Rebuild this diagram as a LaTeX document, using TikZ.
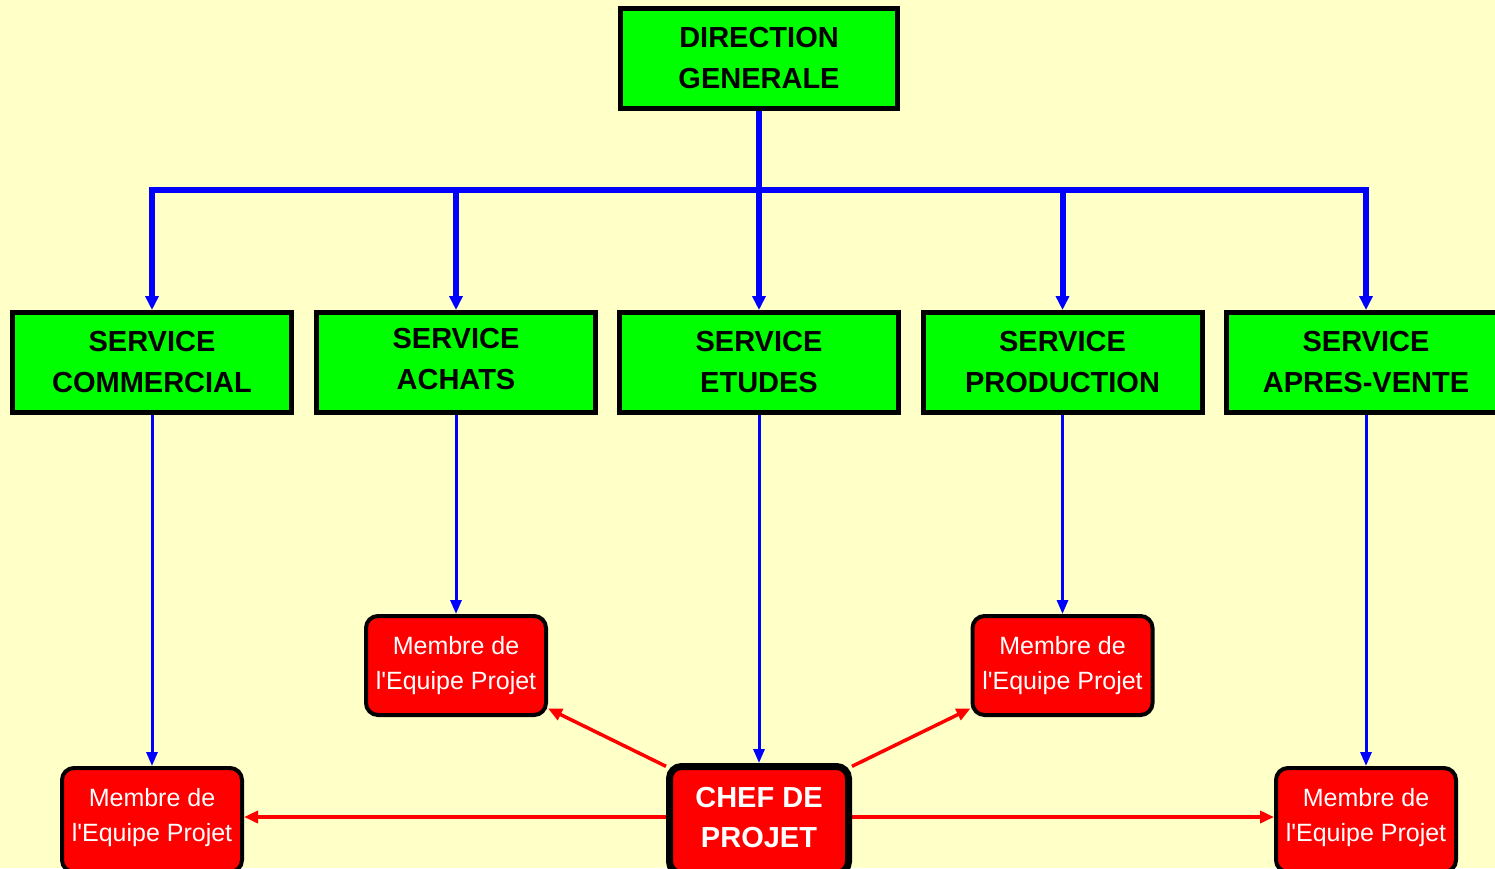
\documentclass[tikz,border=0pt]{standalone}
\usepackage{fontspec}
\setmainfont{Liberation Sans}
\usetikzlibrary{arrows.meta,calc}
\pgfdeclarelayer{back}
\pgfdeclarelayer{links}
\pgfsetlayers{back,links,main}
\definecolor{bgyellow}{RGB}{255,255,200}
\definecolor{boxgreen}{RGB}{0,255,0}
\definecolor{boxred}{RGB}{255,0,0}
\definecolor{linkblue}{RGB}{0,0,255}
\newcommand{\membretext}{Membre de\\l\textquotesingle Equipe Projet}
\begin{document}
\begin{tikzpicture}[x=1pt,y=-1pt,
 greenbox/.style={draw=black,line width=5pt,fill=boxgreen,minimum width=279pt,minimum height=100pt,inner sep=0pt,align=center,font=\fontsize{29}{41}\selectfont\bfseries},
 redbox/.style={draw=black,line width=4pt,fill=boxred,rounded corners=12pt,minimum width=180pt,minimum height=99pt,inner sep=0pt,align=center,text=white,font=\fontsize{25}{35}\selectfont},
 lowredbox/.style={redbox,minimum height=104pt,text depth=10pt},
 chefbox/.style={redbox,line width=7pt,minimum width=179pt,minimum height=107pt,text depth=6pt,font=\fontsize{29}{40}\selectfont\bfseries},
 busline/.style={draw=linkblue,line width=6pt,-{Triangle[length=14pt,width=13pt]}},
 downline/.style={draw=linkblue,line width=3pt,-{Triangle[length=14pt,width=11pt]}},
 redline/.style={draw=red,line width=3.5pt,-{Triangle[length=14pt,width=12pt]}}]
\useasboundingbox (0,0) rectangle (1495,868);
\clip (0,0) rectangle (1495,868);
\begin{pgfonlayer}{back}
\fill[bgyellow] (0,0) rectangle (1495,868);
\end{pgfonlayer}

\node[greenbox,minimum width=277pt] (dg) at (759,58.5) {DIRECTION\\GENERALE};
\node[greenbox] (sc) at (152,362.5) {SERVICE\\COMMERCIAL};
\node[greenbox,text depth=8pt] (sa) at (456,362.5) {SERVICE\\ACHATS};
\node[greenbox] (se) at (759,362.5) {SERVICE\\ETUDES};
\node[greenbox] (sp) at (1062.5,362.5) {SERVICE\\PRODUCTION};
\node[greenbox] (sv) at (1366,362.5) {SERVICE\\APRES-VENTE};

\node[lowredbox] (m1) at (152,820) {\membretext};
\node[redbox] (m2) at (456,665.5) {\membretext};
\node[redbox] (m4) at (1062.5,665.5) {\membretext};
\node[lowredbox] (m5) at (1366,820) {\membretext};
\node[chefbox] (chef) at (759,820) {CHEF DE\\PROJET};

\begin{pgfonlayer}{links}
\coordinate (bus) at (759,190);
\draw[busline] (dg.south) |- (bus -| sc) -- (sc.north);
\draw[busline] (dg.south) |- (bus -| sa) -- (sa.north);
\draw[busline] (dg.south) -- (se.north);
\draw[busline] (dg.south) |- (bus -| sp) -- (sp.north);
\draw[busline] (dg.south) |- (bus -| sv) -- (sv.north);

\draw[downline] (sc.south) -- (m1.north);
\draw[downline] (sa.south) -- (m2.north);
\draw[downline] (se.south) -- (chef.north);
\draw[downline] (sp.south) -- (m4.north);
\draw[downline] (sv.south) -- (m5.north);

\coordinate (ly) at (0,817);
\draw[redline] (chef.west |- ly) -- (m1.east |- ly);
\draw[redline] (chef.east |- ly) -- (m5.west |- ly);
\draw[redline] (chef.150) -- (m2.335);
\draw[redline] (chef.30) -- (m4.205);
\end{pgfonlayer}
\end{tikzpicture}
\end{document}
